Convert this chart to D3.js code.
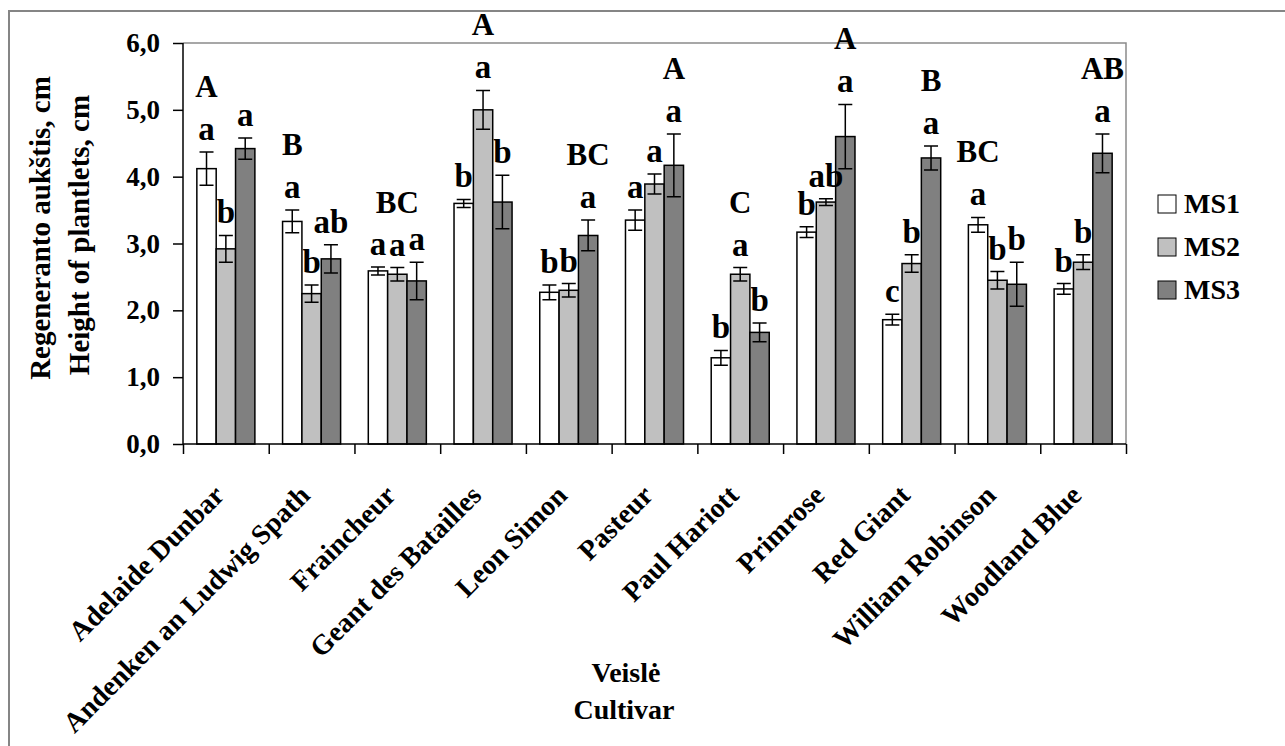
<!DOCTYPE html>
<html>
<head>
<meta charset="utf-8">
<script src="https://cdn.jsdelivr.net/npm/d3@7"></script>
<style>
  html, body { margin: 0; padding: 0; background: #ffffff; }
  svg { display: block; }
  text { font-family: "Liberation Serif", "Times New Roman", serif; font-weight: bold; fill: #000; }
</style>
</head>
<body>
<svg id="chart" width="1285" height="746"></svg>
<script>
// ---------- data ----------
const categories = ["Adelaide Dunbar", "Andenken an Ludwig Spath", "Fraincheur", "Geant des Batailles",
  "Leon Simon", "Pasteur", "Paul Hariott", "Primrose", "Red Giant", "William Robinson", "Woodland Blue"];
const seriesNames = ["MS1", "MS2", "MS3"];
const ms1 = [4.12, 3.33, 2.59, 3.60, 2.27, 3.35, 1.29, 3.17, 1.86, 3.28, 2.32];
const ms2 = [2.92, 2.25, 2.54, 5.00, 2.30, 3.89, 2.54, 3.62, 2.70, 2.45, 2.72];
const ms3 = [4.42, 2.77, 2.44, 3.62, 3.12, 4.17, 1.67, 4.60, 4.28, 2.39, 4.35];
const ms1Err = [0.25, 0.17, 0.06, 0.06, 0.11, 0.15, 0.11, 0.08, 0.08, 0.11, 0.08];
const ms2Err = [0.20, 0.13, 0.10, 0.29, 0.10, 0.15, 0.10, 0.05, 0.13, 0.13, 0.11];
const ms3Err = [0.16, 0.21, 0.28, 0.40, 0.23, 0.47, 0.14, 0.48, 0.18, 0.33, 0.29];
const ms1Letters = ["a", "a", "a", "b", "b", "a", "b", "b", "c", "a", "b"];
const ms2Letters = ["b", "b", "a", "a", "b", "a", "a", "ab", "b", "b", "b"];
const ms3Letters = ["a", "ab", "a", "b", "a", "a", "b", "a", "a", "b", "a"];
const groupLetters = ["A", "B", "BC", "A", "BC", "A", "C", "A", "B", "BC", "AB"];
const groupLetterSeries = [0, 0, 1, 1, 2, 2, 1, 2, 2, 0, 2];
const yTicks = [0, 1, 2, 3, 4, 5, 6];
const yTitle1 = "Regeneranto aukštis, cm";
const yTitle2 = "Height of plantlets, cm";
const xTitle1 = "Veislė";
const xTitle2 = "Cultivar";

const values = [ms1, ms2, ms3];
const errors = [ms1Err, ms2Err, ms3Err];
const letters = [ms1Letters, ms2Letters, ms3Letters];
const fills = ["#ffffff", "#c0c0c0", "#808080"];

// ---------- layout ----------
const W = 1285, H = 746;
const plot = { left: 183, right: 1126, top: 43, bottom: 444 };

const svg = d3.select("#chart");
svg.append("rect").attr("x", 0).attr("y", 0).attr("width", W).attr("height", H).attr("fill", "#fff");
// outer frame (extends past the right/bottom edges like the reference)
svg.append("rect").attr("x", 9).attr("y", 11).attr("width", W + 20).attr("height", H + 20)
  .attr("fill", "none").attr("stroke", "#858585").attr("stroke-width", 2);

const x0 = d3.scaleBand().domain(categories).range([plot.left, plot.right])
  .paddingInner(0.323).paddingOuter(0.1615);
const x1 = d3.scaleBand().domain(seriesNames).range([0, x0.bandwidth()]).padding(0);
const y = d3.scaleLinear().domain([0, 6]).range([plot.bottom, plot.top]);
const xEdges = d3.scaleLinear().domain([0, categories.length]).range([plot.left, plot.right]);

// plot frame top/right
svg.append("path")
  .attr("d", `M${plot.left},${plot.top}H${plot.right}V${plot.bottom}`)
  .attr("fill", "none").attr("stroke", "#8a8a8a").attr("stroke-width", 1.5);

// bars
const groups = svg.append("g").selectAll("g").data(categories).join("g")
  .attr("transform", d => `translate(${x0(d)},0)`);

seriesNames.forEach((s, si) => {
  groups.append("rect")
    .attr("x", (d, i) => x1(s))
    .attr("y", (d, i) => y(values[si][i]))
    .attr("width", x1.bandwidth())
    .attr("height", (d, i) => y(0) - y(values[si][i]))
    .attr("fill", fills[si]).attr("stroke", "#000").attr("stroke-width", 1.5);
});

// error bars
const cap = 7;
seriesNames.forEach((s, si) => {
  const cx = x1(s) + x1.bandwidth() / 2;
  groups.append("path")
    .attr("d", (d, i) => {
      const v = values[si][i], e = errors[si][i];
      const yt = y(v + e), yb = y(v - e);
      return `M${cx - cap},${yt}H${cx + cap}M${cx},${yt}V${yb}M${cx - cap},${yb}H${cx + cap}`;
    })
    .attr("fill", "none").attr("stroke", "#000").attr("stroke-width", 1.5);
});

// lowercase letters
seriesNames.forEach((s, si) => {
  const cx = x1(s) + x1.bandwidth() / 2;
  groups.append("text")
    .attr("x", cx)
    .attr("y", (d, i) => y(values[si][i] + errors[si][i]) - 12)
    .attr("text-anchor", "middle")
    .style("font-size", "33px")
    .text((d, i) => letters[si][i]);
});

// group letters
groups.append("text")
  .attr("x", (d, i) => x1(seriesNames[groupLetterSeries[i]]) + x1.bandwidth() / 2)
  .attr("y", (d, i) => {
    const si = groupLetterSeries[i];
    return y(values[si][i] + errors[si][i]) - 55;
  })
  .attr("text-anchor", "middle")
  .style("font-size", "31px")
  .text((d, i) => groupLetters[i]);

// y axis
const yAxis = svg.append("g").attr("transform", `translate(${plot.left},0)`)
  .call(d3.axisLeft(y).tickValues(yTicks).tickSize(10).tickPadding(13)
    .tickFormat(d => d3.format(".1f")(d).replace(".", ",")));
yAxis.selectAll("text").style("font-size", "27px").attr("fill", "#000");
yAxis.selectAll("line").attr("stroke", "#000").attr("stroke-width", 1.5);
yAxis.select(".domain").attr("stroke", "#000").attr("stroke-width", 1.5).attr("d", `M0,${plot.top}V${plot.bottom}`);

// x axis (ticks at category boundaries)
const xAxis = svg.append("g").attr("transform", `translate(0,${plot.bottom})`)
  .call(d3.axisBottom(xEdges).tickValues(d3.range(categories.length + 1)).tickSize(10).tickFormat(""));
xAxis.selectAll("line").attr("stroke", "#000").attr("stroke-width", 1.5);
xAxis.select(".domain").attr("stroke", "#000").attr("stroke-width", 1.5)
  .attr("d", `M${plot.left},0H${plot.right}`);

// category labels rotated -45°
svg.append("g").selectAll("text").data(categories).join("text")
  .attr("transform", d => `translate(${x0(d) + x0.bandwidth() / 2},${plot.bottom + 53}) rotate(-45)`)
  .attr("text-anchor", "end")
  .style("font-size", "28px")
  .text(d => d);

// y title
svg.append("text").attr("transform", `translate(50,228) rotate(-90)`)
  .attr("text-anchor", "middle").style("font-size", "29px").text(yTitle1);
svg.append("text").attr("transform", `translate(89,235) rotate(-90)`)
  .attr("text-anchor", "middle").style("font-size", "29px").text(yTitle2);

// x title
svg.append("text").attr("x", 626).attr("y", 682).attr("text-anchor", "middle")
  .style("font-size", "28px").text(xTitle1);
svg.append("text").attr("x", 624).attr("y", 719).attr("text-anchor", "middle")
  .style("font-size", "28px").text(xTitle2);

// legend
const legend = svg.append("g").selectAll("g").data(seriesNames).join("g")
  .attr("transform", (d, i) => `translate(1158,${195 + i * 43})`);
legend.append("rect").attr("width", 18).attr("height", 18)
  .attr("fill", (d, i) => fills[i]).attr("stroke", "#000").attr("stroke-width", 1);
legend.append("text").attr("x", 26).attr("y", 18).style("font-size", "28px").text(d => d);
</script>
</body>
</html>
